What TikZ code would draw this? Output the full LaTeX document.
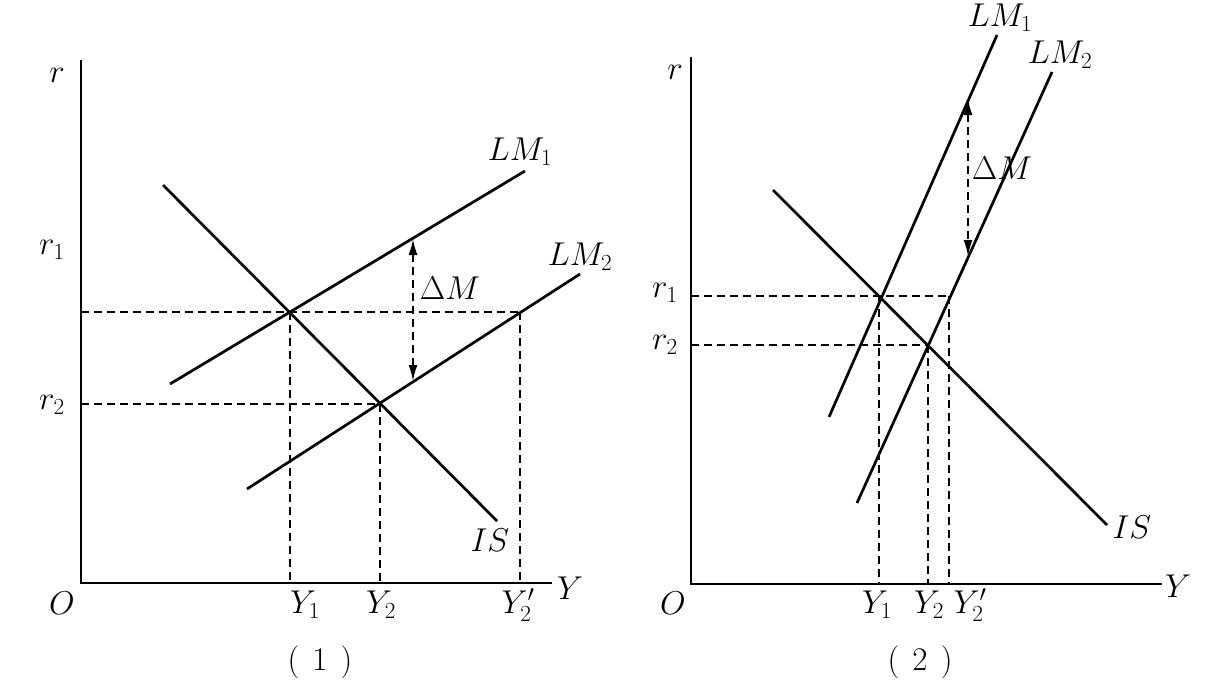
\RequirePackage{fix-cm}
\documentclass[tikz,border=0pt]{standalone}
\usepackage{fontspec}
\usetikzlibrary{arrows.meta, positioning}

\begin{document}
\begin{tikzpicture}[
    x=1pt, y=-1pt,
    % Styles for axes, curves and guide lines
    axis/.style={line width=2pt},
    curve/.style={line width=2.7pt},
    guide/.style={line width=1.8pt, dash pattern=on 8pt off 5pt},
    lmshift/.style={guide, {Latex[length=16pt,width=9pt]}-{Latex[length=16pt,width=9pt]}},
    lbl/.style={font=\fontsize{33}{37}\selectfont, inner sep=0pt}
]
    \useasboundingbox (0,0) rectangle (1213,697);

    % --- PANEL (1) ---
    % Axes
    \coordinate (o1) at (81,583);
    \coordinate (r1top) at (81,60);
    \coordinate (y1end) at (552,583);
    \draw [axis] (r1top) -- (o1) -- (y1end);

    % Curves
    \coordinate (is1a) at (163,185);
    \coordinate (is1b) at (497,521);
    \coordinate (lm1a) at (170,384);
    \coordinate (lm1b) at (525,171);
    \coordinate (lm2a) at (247,489);
    \coordinate (lm2b) at (580,274);
    \draw [curve] (is1a) -- (is1b);
    \draw [curve] (lm1a) -- (lm1b);
    \draw [curve] (lm2a) -- (lm2b);

    % Equilibrium points and guide lines
    \coordinate (e1) at (290,312);
    \coordinate (e2) at (380,404);
    \coordinate (e3) at (520,312);
    \coordinate (e1r) at (81,312);
    \coordinate (e2r) at (81,404);
    \coordinate (e1y) at (290,583);
    \coordinate (e2y) at (380,583);
    \coordinate (e3y) at (520,583);
    \draw [guide] (e1r) -- (e3);
    \draw [guide] (e2r) -- (e2);
    \draw [guide] (e1) -- (e1y);
    \draw [guide] (e2) -- (e2y);
    \draw [guide] (e3) -- (e3y);

    % Shift of LM
    \coordinate (dm1a) at (413,239);
    \coordinate (dm1b) at (413,381);
    \draw [lmshift] (dm1a) -- (dm1b);

    % Labels
    \node [lbl] (r1lbl) at (57,75) {$r$};
    \node [lbl] (r11lbl) at (52,250) {$r_1$};
    \node [lbl] (r12lbl) at (52,405) {$r_2$};
    \node [lbl] (o1lbl) at (62,603) {$O$};
    \node [lbl] (y1lbl) at (570,588) {$Y$};
    \node [lbl] (y11lbl) at (305,605) {$Y_1$};
    \node [lbl] (y12lbl) at (381,605) {$Y_2$};
    \node [lbl] (y13lbl) at (518,605) {$Y'_2$};
    \node [lbl] (is1lbl) at (490,540) {$IS$};
    \node [lbl] (lm11lbl) at (520,152) {$LM_1$};
    \node [lbl] (lm12lbl) at (580,257) {$LM_2$};
    \node [lbl] (dm1lbl) at (450,288) {$\Delta M$};
    \node [lbl] (cap1) at (320,662) {(\hspace{0.4em}1\hspace{0.4em})};

    % --- PANEL (2) ---
    % Axes
    \coordinate (o2) at (691,584);
    \coordinate (r2top) at (691,57);
    \coordinate (y2end) at (1162,584);
    \draw [axis] (r2top) -- (o2) -- (y2end);

    % Curves
    \coordinate (is2a) at (773,190);
    \coordinate (is2b) at (1107,525);
    \coordinate (lm3a) at (829,417);
    \coordinate (lm3b) at (997,35);
    \coordinate (lm4a) at (857,503);
    \coordinate (lm4b) at (1052,72);
    \draw [curve] (is2a) -- (is2b);
    \draw [curve] (lm3a) -- (lm3b);
    \draw [curve] (lm4a) -- (lm4b);

    % Equilibrium points and guide lines
    \coordinate (f1) at (879,296);
    \coordinate (f2) at (928,345);
    \coordinate (f3) at (949,296);
    \coordinate (f1r) at (691,296);
    \coordinate (f2r) at (691,345);
    \coordinate (f1y) at (879,584);
    \coordinate (f2y) at (928,584);
    \coordinate (f3y) at (949,584);
    \draw [guide] (f1r) -- (f3);
    \draw [guide] (f2r) -- (f2);
    \draw [guide] (f1) -- (f1y);
    \draw [guide] (f2) -- (f2y);
    \draw [guide] (f3) -- (f3y);

    % Shift of LM
    \coordinate (dm2a) at (968,99);
    \coordinate (dm2b) at (968,256);
    \draw [lmshift] (dm2a) -- (dm2b);

    % Labels
    \node [lbl] (r2lbl) at (675,72) {$r$};
    \node [lbl] (r21lbl) at (665,293) {$r_1$};
    \node [lbl] (r22lbl) at (665,345) {$r_2$};
    \node [lbl] (o2lbl) at (673,603) {$O$};
    \node [lbl] (y2lbl) at (1178,586) {$Y$};
    \node [lbl] (y21lbl) at (877,605) {$Y_1$};
    \node [lbl] (y22lbl) at (929,605) {$Y_2$};
    \node [lbl] (y23lbl) at (970,605) {$Y'_2$};
    \node [lbl] (is2lbl) at (1132,527) {$IS$};
    \node [lbl] (lm21lbl) at (1000,18) {$LM_1$};
    \node [lbl] (lm22lbl) at (1060,55) {$LM_2$};
    \node [lbl] (dm2lbl) at (1002,168) {$\Delta M$};
    \node [lbl] (cap2) at (920,662) {(\hspace{0.4em}2\hspace{0.4em})};

\end{tikzpicture}
\end{document}
